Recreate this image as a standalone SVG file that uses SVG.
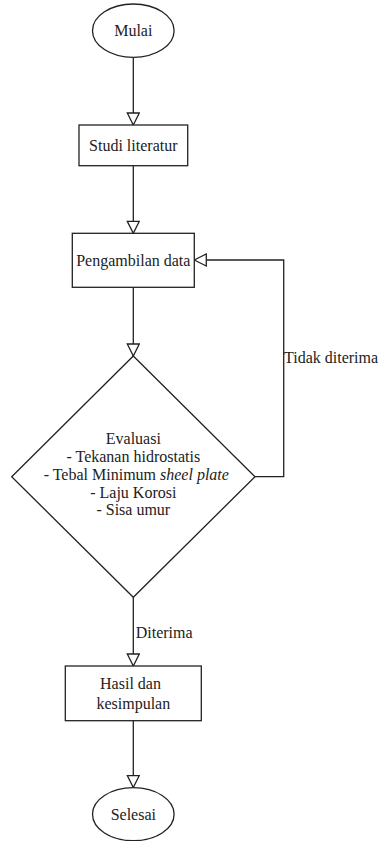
<svg xmlns="http://www.w3.org/2000/svg" width="382" height="841" viewBox="0 0 382 841">
<defs>
<marker id="arr" viewBox="0 0 14 14" refX="13" refY="7" markerWidth="14" markerHeight="14" markerUnits="userSpaceOnUse" orient="auto">
<path d="M1,1 L13,7 L1,13 Z" fill="#fff" stroke="#222" stroke-width="1.3"/>
</marker>
<style>
.s{fill:#fff;stroke:#222;stroke-width:1.3}
.c{fill:none;stroke:#222;stroke-width:1.3}
text{font-family:'Liberation Serif','Tinos','DejaVu Serif','Noto Serif',serif;font-size:16px;fill:#222}
.m{text-anchor:middle}
</style>
</defs>
<rect width="382" height="841" fill="#fff"/>
<g id="connectors">
<path class="c" d="M133.3,57.5 V125" marker-end="url(#arr)"/>
<path class="c" d="M133.3,165.7 V233.3" marker-end="url(#arr)"/>
<path class="c" d="M133.3,287.3 V356" marker-end="url(#arr)"/>
<path class="c" d="M255,476.7 H283.7 V260 H194.3" marker-end="url(#arr)"/>
<path class="c" d="M133.3,597.3 V666" marker-end="url(#arr)"/>
<path class="c" d="M133.3,720.7 V787.5" marker-end="url(#arr)"/>
<text x="284" y="363">Tidak diterima</text>
<text x="135.7" y="637.5">Diterima</text>
</g>
<g id="mulai">
<ellipse class="s" cx="133.3" cy="30.7" rx="40.8" ry="26.7"/>
<text class="m" x="133.3" y="36">Mulai</text>
</g>
<g id="studi">
<rect class="s" x="79" y="125" width="108.7" height="40.7"/>
<text class="m" x="133.3" y="151">Studi literatur</text>
</g>
<g id="pengambilan">
<rect class="s" x="72.3" y="233.3" width="122" height="54"/>
<text class="m" x="133.3" y="266">Pengambilan data</text>
</g>
<g id="evaluasi">
<path class="s" d="M133.3,356 L255,476.7 L133.3,597.3 L11.7,476.7 Z"/>
<text class="m" x="133.3" y="444">Evaluasi</text>
<text class="m" x="133.3" y="462">- Tekanan hidrostatis</text>
<text class="m" x="136.3" y="480">- Tebal Minimum <tspan font-style="italic">sheel plate</tspan></text>
<text class="m" x="133.3" y="497.5">- Laju Korosi</text>
<text class="m" x="133.3" y="515">- Sisa umur</text>
</g>
<g id="hasil">
<rect class="s" x="65.3" y="666" width="136" height="54.7"/>
<text class="m" x="130.5" y="689">Hasil dan</text>
<text class="m" x="133.3" y="708.5">kesimpulan</text>
</g>
<g id="selesai">
<ellipse class="s" cx="133.3" cy="814.2" rx="40.8" ry="26.5"/>
<text class="m" x="133.3" y="820">Selesai</text>
</g>
</svg>
